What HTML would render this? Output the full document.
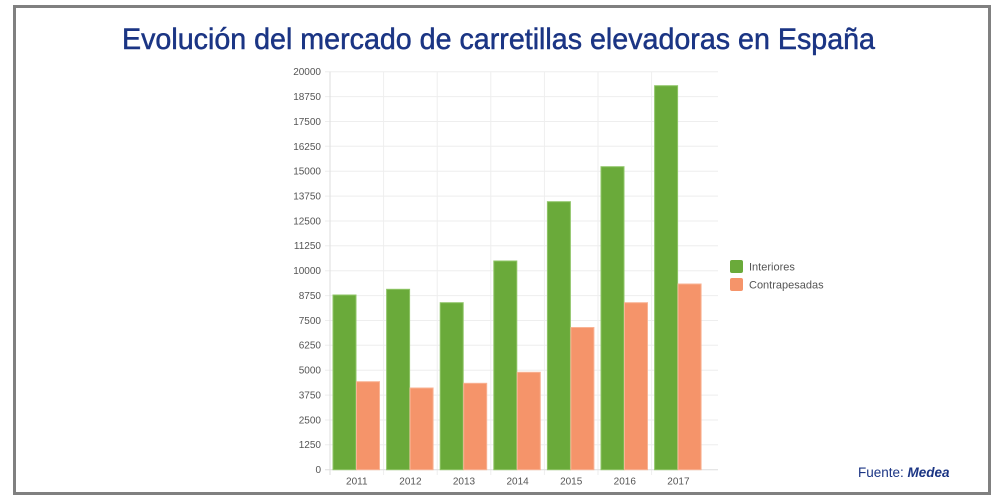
<!DOCTYPE html>
<html><head><meta charset="utf-8"><style>
html,body{margin:0;padding:0;background:#fff;}
svg{display:block;}
</style></head><body>
<svg width="1000" height="500" viewBox="0 0 1000 500" xmlns="http://www.w3.org/2000/svg">
<rect x="0" y="0" width="1000" height="500" fill="#fff"/>
<rect x="14.5" y="6.5" width="975" height="487" fill="none" stroke="#808080" stroke-width="3"/>
<text x="122" y="49" font-family="Liberation Sans, sans-serif" font-size="29.5" fill="#1b3584" stroke="#1b3584" stroke-width="0.5" textLength="753" lengthAdjust="spacingAndGlyphs">Evolución del mercado de carretillas elevadoras en España</text>
<g stroke="#eeeeee" stroke-width="1">
<line x1="325" y1="71.7" x2="718" y2="71.7"/>
<line x1="325" y1="96.6" x2="718" y2="96.6"/>
<line x1="325" y1="121.5" x2="718" y2="121.5"/>
<line x1="325" y1="146.3" x2="718" y2="146.3"/>
<line x1="325" y1="171.2" x2="718" y2="171.2"/>
<line x1="325" y1="196.1" x2="718" y2="196.1"/>
<line x1="325" y1="221.0" x2="718" y2="221.0"/>
<line x1="325" y1="245.8" x2="718" y2="245.8"/>
<line x1="325" y1="270.7" x2="718" y2="270.7"/>
<line x1="325" y1="295.6" x2="718" y2="295.6"/>
<line x1="325" y1="320.5" x2="718" y2="320.5"/>
<line x1="325" y1="345.3" x2="718" y2="345.3"/>
<line x1="325" y1="370.2" x2="718" y2="370.2"/>
<line x1="325" y1="395.1" x2="718" y2="395.1"/>
<line x1="325" y1="420.0" x2="718" y2="420.0"/>
<line x1="325" y1="444.8" x2="718" y2="444.8"/>
<line x1="383.6" y1="71.7" x2="383.6" y2="475"/>
<line x1="437.2" y1="71.7" x2="437.2" y2="475"/>
<line x1="490.8" y1="71.7" x2="490.8" y2="475"/>
<line x1="544.4" y1="71.7" x2="544.4" y2="475"/>
<line x1="598" y1="71.7" x2="598" y2="475"/>
<line x1="651.6" y1="71.7" x2="651.6" y2="475"/>
</g>
<g stroke="#dddddd" stroke-width="1">
<line x1="330" y1="71.7" x2="330" y2="475"/>
<line x1="325" y1="469.7" x2="718" y2="469.7"/>
</g>
<g font-family="Liberation Sans, sans-serif" font-size="10" fill="#555" text-anchor="end">
<text x="321" y="75">20000</text>
<text x="321" y="100">18750</text>
<text x="321" y="125">17500</text>
<text x="321" y="150">16250</text>
<text x="321" y="174.5">15000</text>
<text x="321" y="199.5">13750</text>
<text x="321" y="224.5">12500</text>
<text x="321" y="249">11250</text>
<text x="321" y="274">10000</text>
<text x="321" y="299">8750</text>
<text x="321" y="324">7500</text>
<text x="321" y="348.5">6250</text>
<text x="321" y="373.5">5000</text>
<text x="321" y="398.5">3750</text>
<text x="321" y="423.5">2500</text>
<text x="321" y="448">1250</text>
<text x="321" y="473">0</text>
</g>
<g font-family="Liberation Sans, sans-serif" font-size="10" fill="#555" text-anchor="middle">
<text x="356.8" y="484.5">2011</text>
<text x="410.4" y="484.5">2012</text>
<text x="464" y="484.5">2013</text>
<text x="517.6" y="484.5">2014</text>
<text x="571.2" y="484.5">2015</text>
<text x="624.8" y="484.5">2016</text>
<text x="678.4" y="484.5">2017</text>
</g>
<g fill="#6aaa3a" stroke="#8fc567" stroke-width="1">
<rect x="333" y="295" width="23" height="174.7"/>
<rect x="386.6" y="289.3" width="23" height="180.4"/>
<rect x="440.2" y="302.7" width="23" height="167"/>
<rect x="493.8" y="261" width="23" height="208.7"/>
<rect x="547.4" y="201.7" width="23" height="268"/>
<rect x="601" y="166.7" width="23" height="303"/>
<rect x="654.6" y="85.7" width="23" height="384"/>
</g>
<g fill="#f5946a" stroke="#f9b394" stroke-width="1">
<rect x="356.5" y="381.7" width="23" height="88"/>
<rect x="410.1" y="388" width="23" height="81.7"/>
<rect x="463.7" y="383.3" width="23" height="86.4"/>
<rect x="517.3" y="372.3" width="23" height="97.4"/>
<rect x="570.9" y="327.5" width="23" height="142.2"/>
<rect x="624.5" y="302.7" width="23" height="167"/>
<rect x="678.1" y="284" width="23" height="185.7"/>
</g>
<rect x="730" y="260" width="13" height="13" rx="2" fill="#6aaa3a"/>
<rect x="730" y="278" width="13" height="13" rx="2" fill="#f5946a"/>
<g font-family="Liberation Sans, sans-serif" font-size="11" fill="#555">
<text x="749" y="270.5">Interiores</text>
<text x="749" y="288.5">Contrapesadas</text>
</g>
<text x="858" y="477" font-family="Liberation Sans, sans-serif" font-size="13.5" fill="#1b3584">Fuente: <tspan font-style="italic" font-weight="bold">Medea</tspan></text>
</svg>
</body></html>
